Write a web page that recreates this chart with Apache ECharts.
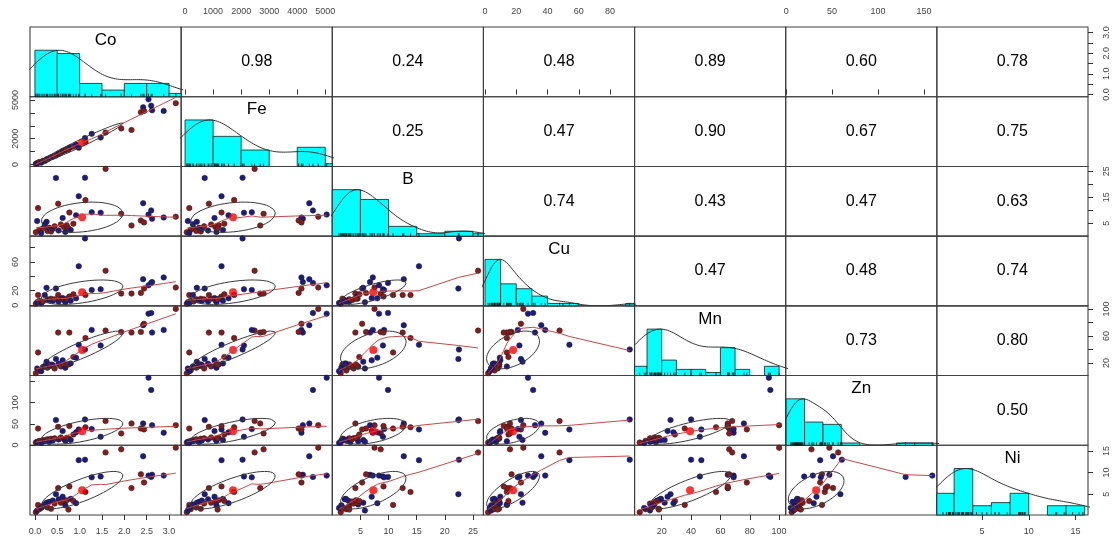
<!DOCTYPE html>
<html><head><meta charset="utf-8">
<script src="https://cdn.jsdelivr.net/npm/echarts@6/dist/echarts.min.js"></script>
<style>html,body{margin:0;padding:0;background:#fff}#c{width:1114px;height:541px}</style>
</head><body><div id="c"></div>
<script>
// ---------------- data ----------------
const varNames = ['Co','Fe','B','Cu','Mn','Zn','Ni'];
const Co = [3.15,2.54,2.60,2.42,2.62,2.88,2.37,2.44,2.16,1.93,1.58,1.47,1.27,1.12,0.98,1.13,0.47,0.52,0.77,0.07,
            0.26,0.02,0.05,0.10,0.14,0.18,0.22,0.28,0.32,0.36,0.40,0.44,0.53,0.58,0.62,0.65,0.68,0.71,0.75,0.80,0.86,0.92];
const Fe = [4750,5050,4560,4430,4200,4150,4050,4150,2680,2800,2480,2100,2380,2050,1300,1750,700,850,1300,150,
            420,60,100,200,150,300,280,400,500,560,600,680,820,930,1050,1080,1120,1200,1160,1350,1400,1550];
const B  = [7.5,8.3,9.9,12.7,6.7,7.2,6.0,5.3,4.1,8.6,25.9,9.0,9.2,22.5,15.4,13.9,22.4,12.5,9.1,10.8,
            5.5,1.5,5.8,2.5,1.2,3.0,4.6,2.0,3.2,1.8,2.8,3.8,2.2,4.5,7.0,3.5,1.6,4.2,3.0,2.4,4.8,8.0];
const Cu = [24.5,27.5,30.8,36,32,38.5,17,23,16,16,47.7,22,21,92.6,54,14,23,14,12,14,
            24,2,4,6,3,5,14,8,7,9,6,8,5,9,9.8,7,4,9,8,6,15,9.5];
const Mn = [100,93,94,76,65,69,66,78,65,66,68,46,69,40,47,57,26,65,65,35.7,
            22,5,12,9,8,14,15,13,16,18,17,12,19,15,24,16,13,18,18,19.5,29,28];
const Zn = [47,159,130,51,47,29,39,37,51,27.5,56.6,19.6,37.7,60.6,37,42,59,43,45,39,
            12,6,8,10,5,12,9,14,7,15,11,16,13,18,33,14,10,17,16,12,25,30];
const Ni = [15.8,9.3,9.0,13.8,9.5,9.3,9.6,7.7,6.4,15.4,14.7,9.1,8.9,13.0,12.9,5.5,5.0,6.4,6.8,2.5,
            3.0,0.8,1.2,1.5,1.8,2.2,2.6,1.9,3.2,1.6,3.5,2.8,3.8,3.0,4.4,3.3,2.4,3.6,1.4,3.9,3.4,2.9];
const group = ['r','b','b','b','b','b','r','r','r','r','r','b','b','b','b','r','b','r','r','r',
               'b','r','b','r','b','r','b','r','b','r','b','r','b','r','b','r','b','r','r','b','r','b'];
// correlation values shown in the upper panels (row i, columns i+1..6)
const corrRows = [
  [0.98,0.24,0.48,0.89,0.60,0.78],
  [0.25,0.47,0.90,0.67,0.75],
  [0.74,0.43,0.47,0.63],
  [0.47,0.48,0.74],
  [0.73,0.80],
  [0.50]
];
// histogram breaks
const breaksCo = [0,0.5,1,1.5,2,2.5,3,3.5];
const breaksFe = [0,1000,2000,3000,4000,5000,6000];
const breaksB  = [0,5,10,15,20,25,30];
const breaksCu = [0,10,20,30,40,50,60,70,80,90,100];
const breaksMn = [0,10,20,30,40,50,60,70,80,90,100];
const breaksZn = [0,20,40,60,80,100,120,140,160];
const breaksNi = [0,2,4,6,8,10,12,14,16];
// tick values and tick labels
const ticksCo = [0,0.5,1,1.5,2,2.5,3];
const ticksFe = [0,1000,2000,3000,4000,5000];
const ticksB  = [5,10,15,20,25];
const ticksCu = [0,20,40,60,80];
const ticksMn = [20,40,60,80,100];
const ticksZn = [0,50,100,150];
const ticksNi = [5,10,15];
const leftLabelsFe = [0,2000,5000];
const leftLabelsCu = [0,20,60];
const leftLabelsZn = [0,50,100];
const rightLabelsCo = [0,1,2,3];
const rightLabelsB  = [5,15,25];
const rightLabelsMn = [20,60,100];
const rightLabelsNi = [5,10,15];

// ---------------- layout / style ----------------
const vals = [Co,Fe,B,Cu,Mn,Zn,Ni];
const breaks = [breaksCo,breaksFe,breaksB,breaksCu,breaksMn,breaksZn,breaksNi];
const ranges = [[-0.11,3.27],[-140,5250],[0,26.85],[-1,95.7],[1.5,104.5],[-0.5,164],[0.15,16.35]];
const ticks = [ticksCo,ticksFe,ticksB,ticksCu,ticksMn,ticksZn,ticksNi];
const leftLabels = {1:leftLabelsFe,3:leftLabelsCu,5:leftLabelsZn};
const rightLabels = {0:rightLabelsCo,2:rightLabelsB,4:rightLabelsMn,6:rightLabelsNi};
const L = 30, T = 27, W = (1088-30)/7, H = (515-27)/7;
const FONT = 'Liberation Sans, Arial, sans-serif';
const fmt = (vi) => (v) => vi === 0 ? Number(v).toFixed(1) : String(v);

// ---------------- statistics helpers ----------------
function mean(a){return a.reduce((s,v)=>s+v,0)/a.length;}
function sd(a){const m=mean(a);return Math.sqrt(a.reduce((s,v)=>s+(v-m)*(v-m),0)/(a.length-1));}
function quant(sorted,p){const h=(sorted.length-1)*p,lo=Math.floor(h);return lo+1<sorted.length?sorted[lo]+(h-lo)*(sorted[lo+1]-sorted[lo]):sorted[lo];}
function density(a){
  const n=a.length, s=[...a].sort((x,y)=>x-y);
  const iqr=quant(s,0.75)-quant(s,0.25);
  const bw=1.06*Math.min(sd(a),iqr/1.34)*Math.pow(n,-0.2)*1.2;
  const lo=s[0]-3*bw, hi=s[n-1]+3*bw, N=400, out=[];
  let mx=0;
  for(let k=0;k<N;k++){const x=lo+(hi-lo)*k/(N-1);let d=0;for(const v of a){const z=(x-v)/bw;d+=Math.exp(-0.5*z*z);}out.push([x,d]);if(d>mx)mx=d;}
  return out.map(p=>[p[0],p[1]/mx]);
}
function histo(a,br){
  const c=new Array(br.length-1).fill(0);
  for(const v of a){for(let k=0;k<br.length-1;k++){if((v>br[k]||(k===0&&v>=br[0]))&&v<=br[k+1]){c[k]++;break;}}}
  const mx=Math.max(...c);
  return c.map((n,k)=>[br[k],br[k+1],n/mx]);
}
function lowest(x,y,n,xs,nleft,nright,w,userw,rw){
  const range=x[n-1]-x[0];
  const h=Math.max(xs-x[nleft],x[nright]-xs),h9=0.999*h,h1=0.001*h;
  let a=0,j=nleft;
  while(j<n){w[j]=0;const r=Math.abs(x[j]-xs);
    if(r<=h9){w[j]=r<=h1?1:Math.pow(1-Math.pow(r/h,3),3);if(userw)w[j]*=rw[j];a+=w[j];}
    else if(x[j]>xs)break;j++;}
  const nrt=j-1;
  if(a<=0)return null;
  for(j=nleft;j<=nrt;j++)w[j]/=a;
  if(h>0){a=0;for(j=nleft;j<=nrt;j++)a+=w[j]*x[j];
    let b=xs-a,c=0;for(j=nleft;j<=nrt;j++)c+=w[j]*(x[j]-a)*(x[j]-a);
    if(Math.sqrt(c)>0.001*range){b/=c;for(j=nleft;j<=nrt;j++)w[j]*=(b*(x[j]-a)+1);}}
  let ys=0;for(j=nleft;j<=nrt;j++)ys+=w[j]*y[j];
  return ys;
}
function lowess(xa,ya,f,nsteps){
  const n=xa.length, ord=xa.map((v,i)=>i).sort((p,q)=>xa[p]-xa[q]);
  const x=ord.map(i=>xa[i]), y=ord.map(i=>ya[i]);
  const delta=0.01*(x[n-1]-x[0]);
  const ys=new Array(n).fill(0),rw=new Array(n).fill(1),res=new Array(n).fill(0),w=new Array(n).fill(0);
  const ns=Math.max(2,Math.min(n,Math.floor(f*n+1e-7)));
  for(let iter=1;iter<=nsteps+1;iter++){
    let nleft=0,nright=ns-1,last=-1,i=0;
    for(;;){
      if(nright<n-1){const d1=x[i]-x[nleft],d2=x[nright+1]-x[i];if(d1>d2){nleft++;nright++;continue;}}
      const v=lowest(x,y,n,x[i],nleft,nright,w,iter>1,rw);
      ys[i]=v===null?y[i]:v;
      if(last<i-1){const den=x[i]-x[last];for(let j=last+1;j<i;j++){const al=(x[j]-x[last])/den;ys[j]=al*ys[i]+(1-al)*ys[last];}}
      last=i;const cut=x[last]+delta;
      for(i=last+1;i<n;i++){if(x[i]>cut)break;if(x[i]===x[last]){ys[i]=ys[last];last=i;}}
      i=Math.max(last+1,i-1);
      if(last>=n-1)break;
    }
    for(let k=0;k<n;k++)res[k]=y[k]-ys[k];
    if(iter>nsteps)break;
    const sc=res.reduce((s,v)=>s+Math.abs(v),0)/n;
    const ar=res.map(Math.abs).sort((p,q)=>p-q);const m1=Math.floor(n/2);
    const cmad=n%2===0?3*(ar[m1-1]+ar[m1]):6*ar[m1];
    if(cmad<1e-7*sc)break;
    const c9=0.999*cmad,c1=0.001*cmad;
    for(let k=0;k<n;k++){const r=Math.abs(res[k]);rw[k]=r<=c1?1:(r>c9?0:Math.pow(1-(r/cmad)*(r/cmad),2));}
  }
  return x.map((v,k)=>[v,ys[k]]);
}
function ellipse(xm,ym,xs,ys,r){
  const t=(r>0?1:-1)/Math.sqrt(2), a1=Math.sqrt(1+r), a2=Math.sqrt(1-r), pts=[];
  for(let k=0;k<=51;k++){const an=k*2*Math.PI/51,c=Math.cos(an),s=Math.sin(an);
    pts.push([xm+xs*t*(a1*c-a2*s), ym+ys*t*(a1*c+a2*s)]);}
  return pts;
}
const corr=(i,j)=>corrRows[Math.min(i,j)][Math.max(i,j)-Math.min(i,j)-1];

// ---------------- build option ----------------
const grids=[],xAxes=[],yAxes=[],series=[],graphics=[];
const tickStyle={show:true,length:5,inside:false,lineStyle:{color:'#333',width:1}};
const labStyle={show:true,fontSize:9,color:'#444',fontFamily:FONT};
const BLUE='#1a1a88', RED='#8b1a1a';
for(let i=0;i<7;i++){for(let j=0;j<7;j++){
  const k=i*7+j;
  grids.push({left:L+j*W,top:T+i*H,width:W,height:H,show:true,borderColor:'#404040',borderWidth:1.1,containLabel:false,outerBoundsMode:'none'});
  const xa={gridIndex:k,type:'value',min:ranges[j][0],max:ranges[j][1],axisLine:{show:false},splitLine:{show:false},axisTick:{show:false},axisLabel:{show:false}};
  if(i===0&&j%2===1){xa.position='top';xa.axisTick=Object.assign({},tickStyle,{customValues:ticks[j]});
    xa.axisLabel=Object.assign({},labStyle,{customValues:ticks[j],margin:11,formatter:fmt(j)});}
  if(i===6&&j%2===0){xa.position='bottom';xa.axisTick=Object.assign({},tickStyle,{customValues:ticks[j]});
    xa.axisLabel=Object.assign({},labStyle,{customValues:ticks[j],margin:12,formatter:fmt(j)});}
  xAxes.push(xa);
  const ya={gridIndex:k,type:'value',min:i===j?0:ranges[i][0],max:i===j?1.5:ranges[i][1],axisLine:{show:false},splitLine:{show:false},axisTick:{show:false},axisLabel:{show:false}};
  if(j===0&&i%2===1){ya.position='left';ya.axisTick=Object.assign({},tickStyle,{customValues:ticks[i]});
    ya.axisLabel=Object.assign({},labStyle,{customValues:leftLabels[i],rotate:90,margin:10,formatter:fmt(i)});}
  if(j===6&&i%2===0&&i!==6){ya.position='right';ya.axisTick=Object.assign({},tickStyle,{customValues:ticks[i]});
    ya.axisLabel=Object.assign({},labStyle,{customValues:rightLabels[i],rotate:90,margin:14,formatter:fmt(i)});}
  yAxes.push(ya);
}}
// extra right axis for the Ni scale on the last diagonal panel
yAxes.push({gridIndex:48,type:'value',position:'right',min:ranges[6][0],max:ranges[6][1],axisLine:{show:false},splitLine:{show:false},
  axisTick:Object.assign({},tickStyle,{customValues:ticks[6]}),
  axisLabel:Object.assign({},labStyle,{customValues:rightLabels[6],rotate:90,margin:14,formatter:fmt(6)})});

for(let i=0;i<7;i++){for(let j=0;j<7;j++){
  const k=i*7+j, cx=L+j*W+W/2;
  if(i===j){
    const v=vals[i];
    series.push({type:'custom',xAxisIndex:k,yAxisIndex:k,data:histo(v,breaks[i]).filter(d=>d[2]>0),encode:{x:[0,1],y:2},
      renderItem:(params,api)=>{
        const p0=api.coord([api.value(0),0]),p1=api.coord([api.value(1),api.value(2)]);
        const cs=params.coordSys;
        const shape=echarts.graphic.clipRectByRect({x:p0[0],y:p1[1],width:p1[0]-p0[0],height:p0[1]-p1[1]},{x:cs.x,y:cs.y,width:cs.width,height:cs.height});
        return shape?{type:'rect',shape:shape,style:{fill:'#00ffff',stroke:'#1a1a1a',lineWidth:0.8}}:null;
      }});
    series.push({type:'line',xAxisIndex:k,yAxisIndex:k,data:density(v),showSymbol:false,clip:true,lineStyle:{color:'#333',width:1},silent:true});
    series.push({type:'custom',xAxisIndex:k,yAxisIndex:k,data:v.map(x=>[x]),encode:{x:0},
      renderItem:(params,api)=>{const p=api.coord([api.value(0),0]);
        return {type:'line',shape:{x1:p[0],y1:p[1],x2:p[0],y2:p[1]-3},style:{stroke:'#000',lineWidth:0.8}};}});
    graphics.push({type:'text',x:cx,y:T+i*H+13,style:{text:varNames[i],x:0,y:0,align:'center',verticalAlign:'middle',font:'17px '+FONT,fill:'#000'}});
  } else if(i<j){
    graphics.push({type:'text',x:cx,y:T+i*H+H/2,style:{text:corr(i,j).toFixed(2),x:0,y:0,align:'center',verticalAlign:'middle',font:'16px '+FONT,fill:'#000'}});
  } else {
    const xv=vals[j], yv=vals[i];
    series.push({type:'scatter',xAxisIndex:k,yAxisIndex:k,data:xv.map((x,n)=>[x,yv[n]]),symbolSize:5.5,clip:true,
      itemStyle:{color:(p)=>group[p.dataIndex]==='b'?BLUE:RED,borderColor:'#202020',borderWidth:0.5,opacity:1}});
    series.push({type:'line',xAxisIndex:k,yAxisIndex:k,data:lowess(xv,yv,2/3,3),showSymbol:false,clip:true,lineStyle:{color:'#c84848',width:1},silent:true});
    series.push({type:'line',xAxisIndex:k,yAxisIndex:k,data:ellipse(mean(xv),mean(yv),sd(xv),sd(yv),corr(i,j)),showSymbol:false,clip:true,lineStyle:{color:'#3a3a3a',width:1},silent:true});
    series.push({type:'scatter',xAxisIndex:k,yAxisIndex:k,data:[[mean(xv),mean(yv)]],symbolSize:8,itemStyle:{color:'#ff0000'},silent:true});
  }
}}

const chart=echarts.init(document.getElementById('c'),null,{renderer:'canvas'});
chart.setOption({animation:false,backgroundColor:'#fff',grid:grids,xAxis:xAxes,yAxis:yAxes,series:series,graphic:graphics});
</script></body></html>
